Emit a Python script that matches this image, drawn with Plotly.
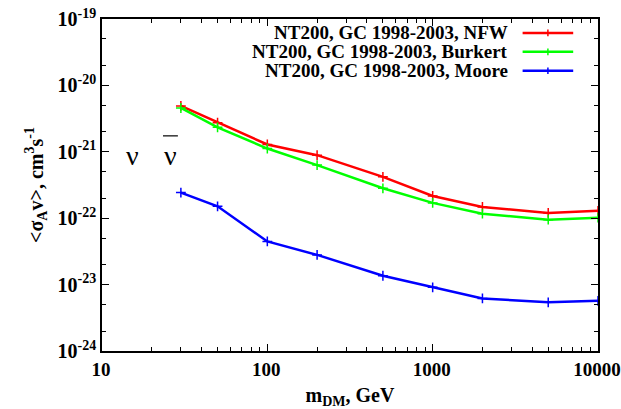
import plotly.graph_objects as go

# dark matter mass, GeV
mass = [30, 50, 100, 200, 500, 1000, 2000, 5000, 10000]
# <sigma_A v> upper limits, cm^3 s^-1
nfw = [4.9e-21, 2.75e-21, 1.29e-21, 8.9e-22, 4.2e-22, 2.16e-22, 1.48e-22, 1.2e-22, 1.29e-22]
burkert = [4.57e-21, 2.34e-21, 1.12e-21, 6.3e-22, 2.82e-22, 1.7e-22, 1.17e-22, 9.5e-23, 1.02e-22]
moore = [2.43e-22, 1.51e-22, 4.47e-23, 2.8e-23, 1.36e-23, 9.1e-24, 6.2e-24, 5.4e-24, 5.7e-24]

names = ['NT200, GC 1998-2003, NFW', 'NT200, GC 1998-2003, Burkert', 'NT200, GC 1998-2003, Moore']
colors = ['#ff0000', '#00ff00', '#0000ff']

x_ticks = [10, 100, 1000, 10000]
y_exps = [-19, -20, -21, -22, -23, -24]

font = 'Liberation Serif'

fig = go.Figure()
for name, vals, col in zip(names, [nfw, burkert, moore], colors):
    fig.add_trace(go.Scatter(
        x=mass, y=vals, name=name, mode='lines+markers',
        line=dict(color=col, width=2.5),
        marker=dict(symbol='cross-thin', size=7, line=dict(color=col, width=1.5)),
        showlegend=False
    ))

# legend drawn by hand: text right aligned, sample line on the right (gnuplot style)
for i, (name, col) in enumerate(zip(names, colors)):
    yp = 0.958 - i * 0.057
    fig.add_annotation(x=0.822, y=yp, xref='paper', yref='paper', text=f'<b>{name}</b>',
                       showarrow=False, xanchor='right', yanchor='middle',
                       font=dict(family=font, size=19, color='black'))
    fig.add_shape(type='line', xref='paper', yref='paper', x0=0.848, x1=0.95, y0=yp, y1=yp,
                  line=dict(color=col, width=2.5))
    fig.add_shape(type='line', xref='paper', yref='paper', x0=0.899, x1=0.899, y0=yp - 0.01, y1=yp + 0.01,
                  line=dict(color=col, width=1.5))

# nu nubar label
fig.add_annotation(x=0.0605, y=0.59, xref='paper', yref='paper', text='ν',
                   showarrow=False, xanchor='center', yanchor='middle',
                   font=dict(family=font, size=28, color='black'))
fig.add_annotation(x=0.138, y=0.59, xref='paper', yref='paper', text='ν',
                   showarrow=False, xanchor='center', yanchor='middle',
                   font=dict(family=font, size=28, color='black'))
fig.add_shape(type='line', xref='paper', yref='paper', x0=0.123, x1=0.153, y0=0.648, y1=0.648,
              line=dict(color='black', width=1.2))

axis_common = dict(showline=True, linecolor='black', linewidth=1.5, mirror='ticks',
                   ticks='inside', ticklen=7, tickwidth=1, tickcolor='black',
                   showgrid=False, zeroline=False, automargin=False, ticklabeloverflow='allow')

fig.update_layout(
    width=621, height=409,
    margin=dict(l=102, r=23, t=19, b=58),
    plot_bgcolor='white', paper_bgcolor='white',
    xaxis=dict(type='log', range=[1, 4], tickvals=x_ticks, ticktext=[f'<b>{v}</b>' for v in x_ticks],
               tickfont=dict(family=font, size=19, color='black'), ticklabelshift=-1,
               minor=dict(ticks='inside', ticklen=4, tickcolor='black',
                          tickvals=[m * 10 ** e for e in range(1, 4) for m in range(2, 10)]),
               title=dict(text='<b>m<sub>DM</sub>, GeV</b>', font=dict(family=font, size=20, color='black'), standoff=10),
               **axis_common),
    yaxis=dict(type='log', range=[-24, -19], tickvals=[10.0 ** e for e in y_exps],
               ticktext=[f'<b>10<sup>{e}</sup></b>' for e in y_exps],
               tickfont=dict(family=font, size=20, color='black'),
               minor=dict(ticks='inside', ticklen=4, tickcolor='black',
                          tickvals=[m * 10.0 ** e for e in range(-24, -19) for m in (2, 5)]),
               title=dict(text='<b>&lt;σ<sub>A</sub>v&gt;, cm<sup>3</sup>s<sup>-1</sup></b>',
                          font=dict(family=font, size=20, color='black'), standoff=9),
               **axis_common),
)

# drop the default 8px page margin so the figure fills the window exactly
fig.write_html('out.html', config={'displayModeBar': False},
               post_script="document.body.style.margin='0';document.body.style.overflow='hidden';")
